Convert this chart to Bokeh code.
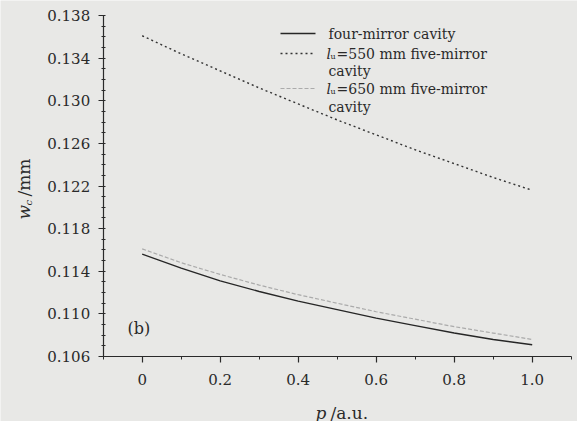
from math import pi
from bokeh.plotting import figure
from bokeh.models import (Label, Arrow, Range1d, FixedTicker, LinearAxis,
                          PrintfTickFormatter, CustomJSTickFormatter)
from bokeh.embed import file_html
from bokeh.resources import INLINE

# ---- data ----
p_vals = [0.0, 0.1, 0.2, 0.3, 0.4, 0.5, 0.6, 0.7, 0.8, 0.9, 1.0]
four_mirror = [0.1156, 0.1143, 0.1131, 0.1121, 0.1112, 0.1104, 0.1096, 0.1089, 0.1082, 0.1076, 0.1071]
five_550 = [0.1361, 0.1344, 0.1328, 0.1312, 0.1297, 0.1282, 0.1268, 0.1254, 0.1241, 0.1228, 0.1216]
five_650 = [0.1161, 0.1148, 0.1137, 0.1127, 0.1118, 0.1110, 0.1102, 0.1095, 0.1088, 0.1082, 0.1076]

x_ticks = [0.0, 0.2, 0.4, 0.6, 0.8, 1.0]
x_minor = [-0.1, 0.1, 0.3, 0.5, 0.7, 0.9, 1.1]
y_ticks = [0.106, 0.110, 0.114, 0.118, 0.122, 0.126, 0.130, 0.134, 0.138]
y_minor = [round(0.106 + 0.001 * i, 3) for i in range(33)]
x_bounds = (-0.1, 1.1)
y_bounds = (0.106, 0.138)

legend_rows = ["four-mirror cavity", "=550 mm five-mirror", "cavity", "=650 mm five-mirror", "cavity"]

BG = "#e8e8e6"
INK = "#2a2a2a"
SERIF = "DejaVu Serif"

W, H = 577, 421
# page position of the axes box
AX_L, AX_R, AX_T, AX_B = 102.7, 570.7, 15.0, 356.0
kx = (AX_R - AX_L) / (x_bounds[1] - x_bounds[0])
ky = (AX_B - AX_T) / (y_bounds[1] - y_bounds[0])
x_range = Range1d(x_bounds[0] - AX_L / kx, x_bounds[1] + (W - AX_R) / kx)
y_range = Range1d(y_bounds[0] - (H - AX_B) / ky, y_bounds[1] + AX_T / ky)

p = figure(width=W, height=H, output_backend="svg", toolbar_location=None,
           x_range=x_range, y_range=y_range,
           x_axis_location=None, y_axis_location=None, min_border=0)
p.background_fill_color = BG
p.border_fill_color = BG
p.outline_line_color = None
p.grid.visible = False

xaxis = LinearAxis(fixed_location=y_bounds[0], bounds=x_bounds,
                   ticker=FixedTicker(ticks=x_ticks, minor_ticks=x_minor),
                   formatter=CustomJSTickFormatter(code="return tick == 0 ? '0' : tick.toFixed(1);"))
yaxis = LinearAxis(fixed_location=x_bounds[0], bounds=y_bounds,
                   ticker=FixedTicker(ticks=y_ticks, minor_ticks=y_minor),
                   formatter=PrintfTickFormatter(format="%.3f"))
p.add_layout(xaxis, "below")
p.add_layout(yaxis, "left")

for ax in (xaxis, yaxis):
    ax.axis_line_color = INK
    ax.axis_line_width = 1.2
    ax.major_tick_line_color = INK
    ax.minor_tick_line_color = INK
    ax.major_tick_line_width = 1.2
    ax.major_label_text_font = SERIF
    ax.major_label_text_font_size = "15px"
    ax.major_label_text_color = INK

xaxis.major_tick_out = 6
xaxis.major_tick_in = 0
xaxis.minor_tick_out = 3
xaxis.minor_tick_in = 0
xaxis.major_label_standoff = 11

yaxis.major_tick_out = 5
yaxis.major_tick_in = 0
yaxis.minor_tick_out = 2
yaxis.minor_tick_in = 2
yaxis.major_label_standoff = 8

# curves
p.line(p_vals, four_mirror, line_color="#262626", line_width=1.4)
p.line(p_vals, five_550, line_color="#333333", line_width=1.4, line_dash="2 3")
p.line(p_vals, five_650, line_color="#ababab", line_width=1.2, line_dash="4 2")

# the frame covers the whole canvas: screen units are page pixels with y up
def sx(px):
    return px

def sy(py):
    return H - py

def lab(text, px, py, size="14px", style="normal", align="left", angle=0.0, color=INK):
    p.add_layout(Label(x=sx(px), y=sy(py), x_units="screen", y_units="screen",
                       text=text, text_font=SERIF, text_font_size=size,
                       text_font_style=style, text_color=color, text_align=align,
                       text_baseline="middle", angle=angle))

# legend
rows_y = [33, 53, 70, 88, 106]
styles = [("#262626", "solid", 1.4), ("#333333", "2 3", 1.4), ("#ababab", "4 2", 1.2)]
sample_rows = [0, 1, 3]
for (col, dash, w), ri in zip(styles, sample_rows):
    p.add_layout(Arrow(x_start=sx(280), y_start=sy(rows_y[ri]), x_end=sx(315), y_end=sy(rows_y[ri]),
                       start_units="screen", end_units="screen", end=None,
                       line_color=col, line_dash=dash, line_width=w))
lab(legend_rows[0], 328, rows_y[0])
for ri in (1, 3):
    lab("l", 326, rows_y[ri], style="italic")
    lab("u", 330, rows_y[ri] + 3, size="8px")
    lab(legend_rows[ri], 336, rows_y[ri])
lab(legend_rows[2], 328, rows_y[2])
lab(legend_rows[4], 328, rows_y[4])

# axis titles
lab("w", 23, 219, size="17px", style="italic", angle=pi / 2)
lab("c", 28, 205, size="10px", style="italic", angle=pi / 2)
lab("/mm", 23, 196, size="17px", angle=pi / 2)
lab("p", 315, 412, size="17px", style="italic")
lab("/a.u.", 330, 412, size="17px")

# panel tag
lab("(b)", 127, 328, size="16px")

open("out.html", "w").write(file_html(p, INLINE))
